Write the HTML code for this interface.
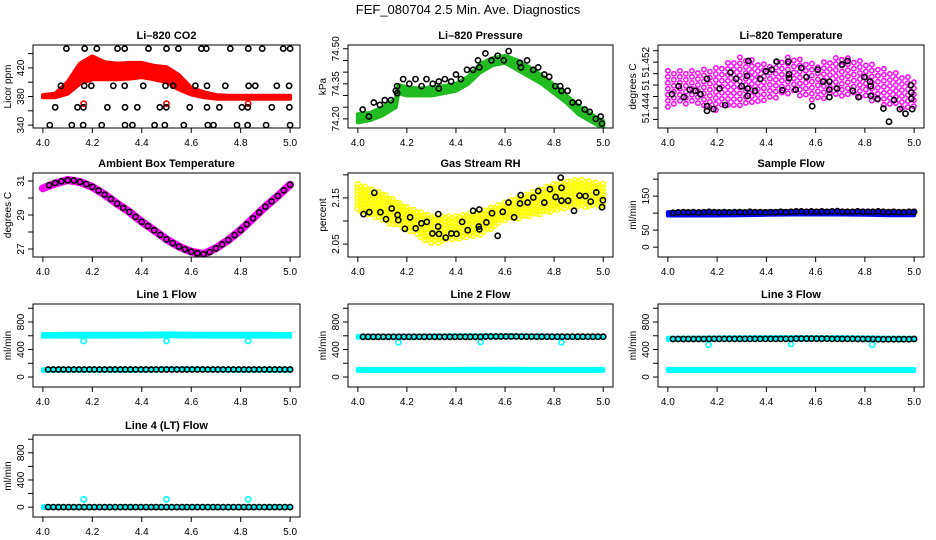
<!DOCTYPE html>
<html><head><meta charset="utf-8"><title>FEF_080704 Diagnostics</title>
<style>
html,body{margin:0;padding:0;background:#fff;}
svg{display:block;font-family:"Liberation Sans",Arial,sans-serif;}
</style></head>
<body>
<svg id="chart" width="936" height="540" viewBox="0 0 936 540" xmlns="http://www.w3.org/2000/svg">
<rect x="0" y="0" width="936" height="540" fill="#fff"/>
<text x="468" y="14" font-size="13" text-anchor="middle" fill="#000">FEF_080704  2.5 Min. Ave. Diagnostics</text>
</svg>
<script>
// ---------- data ----------
const t21 = [4.00,4.05,4.10,4.15,4.20,4.25,4.30,4.35,4.40,4.45,4.50,4.55,4.60,4.65,4.70,4.75,4.80,4.85,4.90,4.95,5.00];
const t11 = [4.0,4.1,4.2,4.3,4.4,4.5,4.6,4.7,4.8,4.9,5.0];
const tReg = [4.021,4.042,4.063,4.083,4.104,4.125,4.146,4.167,4.188,4.208,4.229,4.250,4.271,4.292,4.313,4.333,4.354,4.375,4.396,4.417,4.438,4.458,4.479,4.500,4.521,4.542,4.563,4.583,4.604,4.625,4.646,4.667,4.688,4.708,4.729,4.750,4.771,4.792,4.813,4.833,4.854,4.875,4.896,4.917,4.938,4.958,4.979,5.000];

// Li-820 CO2
const co2Lo = [379,379,384,398,404,404,404,405,407,404,400,390,383,379,377,377,377,377,377,377,377];
const co2Hi = [382,384,400,426,436,428,426,427,427,423,421,410,392,386,382,381,381,381,381,381,381];
const co2OutT = [4.165,4.50,4.83];
const co2OutV = [370,370,370];
const co2BlkT = [4.095,4.169,4.218,4.302,4.331,4.427,4.500,4.548,4.641,4.661,4.758,4.831,4.887,4.972,5.000,
 4.073,4.167,4.196,4.285,4.331,4.406,4.496,4.527,4.617,4.664,4.738,4.832,4.859,4.946,4.996,
 4.050,4.140,4.164,4.261,4.332,4.382,4.473,4.499,4.594,4.664,4.714,4.805,4.829,4.926,4.997,
 4.028,4.117,4.163,4.238,4.332,4.362,4.452,4.493,4.570,4.667,4.690,4.785,4.828,4.903,5.000];
const co2BlkV = [447,447,447,447,447,447,447,447,447,447,447,447,447,447,447,
 395,395,395,395,395,395,395,395,395,395,395,395,395,395,395,
 365,365,365,365,365,365,365,365,365,365,365,365,365,365,365,
 340,340,340,340,340,340,340,340,340,340,340,340,340,340,340];

// Li-820 Pressure
const presT = [4.00,4.05,4.10,4.155,4.165,4.20,4.25,4.30,4.35,4.40,4.45,4.50,4.55,4.60,4.65,4.70,4.75,4.80,4.85,4.90,4.95,5.00];
const presLo = [74.185,74.195,74.215,74.25,74.31,74.30,74.30,74.30,74.31,74.32,74.35,74.40,74.43,74.44,74.41,74.38,74.35,74.31,74.27,74.22,74.19,74.16];
const presHi = [74.22,74.225,74.25,74.285,74.345,74.335,74.33,74.335,74.34,74.35,74.38,74.435,74.46,74.47,74.45,74.42,74.385,74.345,74.30,74.255,74.22,74.19];
const presBlkT = [4.02,4.045,4.065,4.09,4.11,4.135,4.155,4.16,4.16,4.185,4.21,4.235,4.26,4.28,4.305,4.33,4.33,4.355,4.38,4.40,4.42,4.445,4.47,4.49,4.495,4.52,4.545,4.57,4.595,4.615,4.66,4.665,4.69,4.715,4.735,4.76,4.78,4.805,4.825,4.83,4.855,4.875,4.90,4.925,4.945,4.97,4.99,4.995];
const presBlkV = [74.24,74.21,74.27,74.26,74.28,74.28,74.32,74.34,74.31,74.37,74.35,74.37,74.34,74.37,74.35,74.36,74.33,74.37,74.36,74.39,74.37,74.41,74.41,74.45,74.42,74.48,74.45,74.47,74.45,74.49,74.44,74.42,74.45,74.41,74.42,74.39,74.38,74.34,74.34,74.32,74.32,74.27,74.27,74.24,74.23,74.20,74.21,74.18];

// Li-820 Temperature
const tempLo = [51.4440,51.4450,51.4435,51.4445,51.4450,51.4465,51.4450,51.4460,51.4455,51.4440,51.4435];
const tempHi = [51.4505,51.4505,51.4510,51.4530,51.4515,51.4530,51.4515,51.4530,51.4520,51.4505,51.4490];
const tempBlkT = [4.017,4.044,4.065,4.089,4.112,4.132,4.159,4.159,4.159,4.185,4.210,4.233,4.254,4.277,4.300,4.321,4.327,4.324,4.324,4.354,4.375,4.398,4.422,4.442,4.465,4.489,4.492,4.492,4.519,4.542,4.563,4.586,4.609,4.630,4.656,4.656,4.656,4.687,4.707,4.730,4.751,4.774,4.798,4.821,4.824,4.824,4.851,4.875,4.898,4.919,4.942,4.965,4.987,4.989,4.989,4.992];
const tempBlkV = [51.4464,51.4478,51.4459,51.4472,51.4470,51.4464,51.4491,51.4443,51.4435,51.4438,51.4474,51.4445,51.4502,51.4491,51.4478,51.4496,51.4522,51.4474,51.4461,51.4470,51.4491,51.4504,51.4507,51.4521,51.4471,51.4521,51.4499,51.4492,51.4472,51.4510,51.4494,51.4443,51.4507,51.4486,51.4486,51.4472,51.4459,51.4474,51.4516,51.4522,51.4470,51.4459,51.4494,51.4486,51.4478,51.4461,51.4456,51.4439,51.4416,51.4454,51.4438,51.4430,51.4480,51.4467,51.4456,51.4438];

// Ambient Box Temperature
const ambCurve = [30.57,30.85,31.06,30.94,30.65,30.20,29.67,29.18,28.60,28.10,27.57,27.14,26.84,26.70,27.04,27.53,28.12,28.80,29.49,30.12,30.78];
const ambBlkT = [4.025,4.05,4.075,4.1,4.125,4.15,4.175,4.2,4.225,4.25,4.275,4.3,4.325,4.35,4.375,4.4,4.425,4.45,4.475,4.5,4.525,4.55,4.575,4.6,4.625,4.65,4.675,4.7,4.725,4.75,4.775,4.8,4.825,4.85,4.875,4.9,4.925,4.95,4.975,5.0];
const ambBlkV = [30.75,30.88,30.98,31.04,31.03,30.94,30.82,30.65,30.44,30.20,29.94,29.67,29.42,29.18,28.89,28.60,28.35,28.10,27.83,27.57,27.35,27.14,26.98,26.84,26.75,26.70,26.82,27.04,27.27,27.53,27.82,28.12,28.45,28.80,29.15,29.49,29.80,30.12,30.45,30.78];

// Gas Stream RH
const rhLo = [2.12,2.10,2.08,2.05,2.06,2.07,2.10,2.11,2.12,2.13,2.13];
const rhHi = [2.18,2.16,2.13,2.11,2.11,2.12,2.14,2.16,2.18,2.19,2.18];
const rhBlkT = [4.023,4.047,4.067,4.092,4.115,4.138,4.162,4.165,4.192,4.213,4.236,4.259,4.281,4.304,4.328,4.327,4.331,4.358,4.381,4.402,4.425,4.448,4.470,4.495,4.493,4.495,4.524,4.547,4.570,4.591,4.614,4.637,4.661,4.664,4.692,4.715,4.735,4.760,4.783,4.806,4.827,4.830,4.830,4.857,4.881,4.904,4.928,4.949,4.972,4.995,4.999];
const rhBlkV = [2.115,2.119,2.161,2.119,2.104,2.127,2.113,2.102,2.083,2.108,2.084,2.095,2.098,2.073,2.115,2.088,2.072,2.064,2.073,2.072,2.098,2.080,2.122,2.125,2.088,2.082,2.097,2.117,2.068,2.120,2.140,2.108,2.138,2.156,2.140,2.151,2.165,2.140,2.169,2.152,2.194,2.172,2.144,2.144,2.122,2.155,2.154,2.142,2.162,2.130,2.145];

// Sample Flow
const sampLo = [93,93,93,94,95,96,96,96,95,94,94];
const sampHi = [103,103,104,104,105,106,106,106,105,104,104];
const sampBlk = [101,102,103,102,103,102,103,104,103,102,103,102,103,103,102,104,103,103,102,103,103,104,103,104,105,105,104,105,104,105,104,105,106,104,104,104,105,104,104,104,105,104,103,104,103,103,104,104];

// Line flows
const flowOutT = [4.165,4.50,4.83];
const l1TopLo = [585,588,588,588,590,592,590,588,588,588,586];
const l1TopHi = [625,628,628,628,630,634,630,628,628,628,626];
const l1BotLo = [92,92,92,92,92,100,100,95,92,92,92];
const l1BotHi = [112,112,112,112,112,125,125,115,112,112,112];
const l1Out = [524,524,524];
const l1Blk = [110,110,110,110,110,110,110,110,110,110,110,110,110,110,110,110,110,110,110,110,110,110,110,110,110,110,110,110,110,110,110,110,110,110,110,110,110,110,110,110,110,110,110,110,110,110,110,110];
const l2TopLo = [570,572,572,574,576,578,578,576,574,572,570];
const l2TopHi = [598,600,600,602,605,606,606,604,600,598,596];
const l2BotLo = [88,88,88,88,88,88,88,88,88,88,88];
const l2BotHi = [118,118,118,118,118,120,120,118,118,118,118];
const l2Out = [505,510,505];
const l2Blk = [585,585,585,585,585,585,585,585,585,585,585,585,585,585,585,585,585,585,585,585,585,585,585,585,590,590,590,590,590,590,590,588,588,588,588,586,586,586,586,586,586,586,586,586,586,586,586,586];
const l3TopLo = [540,542,545,546,548,550,550,548,545,542,540];
const l3TopHi = [572,574,576,578,580,582,582,580,577,574,572];
const l3BotLo = [88,88,88,88,88,88,88,88,88,88,88];
const l3BotHi = [118,118,118,118,118,118,118,118,118,118,118];
const l3Out = [470,480,470];
const l3Blk = [553,553,553,553,553,553,553,555,555,555,555,555,555,555,555,555,555,555,555,555,555,555,555,555,558,558,558,558,558,558,558,555,555,555,555,555,553,553,553,553,550,550,550,550,550,550,550,553];
const l4Lo = [-12,-12,-12,-12,-12,-12,-12,-12,-12,-12,-12];
const l4Hi = [12,12,12,12,12,12,12,12,12,12,12];
const l4Out = [115,115,115];
const l4Blk = [0,0,0,0,0,0,0,0,0,0,0,0,0,0,0,0,0,0,0,0,0,0,0,0,0,0,0,0,0,0,0,0,0,0,0,0,0,0,0,0,0,0,0,0,0,0,0,0];

// ---------- tick arrays ----------
const xTicks = [4.0,4.2,4.4,4.6,4.8,5.0];
const xTickLabels = ["4.0","4.2","4.4","4.6","4.8","5.0"];
const flowTicks = [0,200,400,600,800,1000];
const flowLabels = ["0","","400","","800",""];

// ---------- layout ----------
const NS = "http://www.w3.org/2000/svg";
const svg = document.getElementById("chart");
const colL = [33,348,658], colR = [300,613,924];
const rowT = [45,173,304,435], rowB = [128,257,387,517];

function mk(tag, attrs, parent) {
  const el = document.createElementNS(NS, tag);
  for (const k in attrs) el.setAttribute(k, attrs[k]);
  (parent || svg).appendChild(el);
  return el;
}
function interp(ts, vs, t) {
  if (t <= ts[0]) return vs[0];
  for (let i = 1; i < ts.length; i++) {
    if (t <= ts[i]) { const f = (t - ts[i-1]) / (ts[i] - ts[i-1]); return vs[i-1] + f * (vs[i] - vs[i-1]); }
  }
  return vs[vs.length-1];
}

let panelCount = 0;
function makePanel(o) {
  const p = { L: colL[o.col], R: colR[o.col], T: rowT[o.row], B: rowB[o.row], y0: o.y0, y1: o.y1 };
  p.sx = t => p.L + (t - 3.96) / 1.08 * (p.R - p.L);
  p.sy = v => p.B - (v - p.y0) / (p.y1 - p.y0) * (p.B - p.T);
  panelCount++;
  const g = mk("g", {});
  
  
  p.g = g;
  const cid = "clip" + panelCount;
  const cp = mk("clipPath", { id: cid }, g);
  mk("rect", { x: p.L, y: p.T, width: p.R - p.L, height: p.B - p.T }, cp);
  p.plot = mk("g", { "clip-path": "url(#" + cid + ")" }, g);
  
  
  const tt = mk("text", { x: (p.L + p.R) / 2, y: p.T - 6, "font-size": 11, "font-weight": "bold", "text-anchor": "middle" }, g);
  tt.textContent = o.title;
  
  
  const bx = mk("rect", { x: p.L, y: p.T, width: p.R - p.L, height: p.B - p.T, fill: "none", stroke: "#000", "stroke-width": 1 }, g);
  
  
  xTicks.forEach((t, i) => {
    const x = p.sx(t);
    const tk = mk("line", { x1: x, x2: x, y1: p.B, y2: p.B + 5, stroke: "#000" }, g);
    
    
    const lb = mk("text", { x: x, y: p.B + 18, "font-size": 10, "text-anchor": "middle" }, g);
    lb.textContent = xTickLabels[i];
    
    
  });
  o.yTicks.forEach((v, i) => {
    const y = p.sy(v);
    const tk = mk("line", { x1: p.L - 5, x2: p.L, y1: y, y2: y, stroke: "#000" }, g);
    
    
    if (o.yLabels[i]) {
      const lb = mk("text", { x: 0, y: 0, "font-size": 10, "text-anchor": "middle", transform: "translate(" + (p.L - 9) + "," + y + ") rotate(-90)" }, g);
      lb.textContent = o.yLabels[i];
      
      
    }
  });
  const yt = mk("text", { x: 0, y: 0, "font-size": 10, "text-anchor": "middle", transform: "translate(" + (p.L - 22) + "," + ((p.T + p.B) / 2) + ") rotate(-90)" }, g);
  yt.textContent = o.ylab;
  
  
  return p;
}
function band(p, ts, lo, hi, color, name) {
  let d = "";
  ts.forEach((t, i) => { d += (i ? "L" : "M") + p.sx(t).toFixed(1) + "," + p.sy(hi[i]).toFixed(1); });
  for (let i = ts.length - 1; i >= 0; i--) d += "L" + p.sx(ts[i]).toFixed(1) + "," + p.sy(lo[i]).toFixed(1);
  d += "Z";
  const el = mk("path", { d: d, fill: color, stroke: color, "stroke-width": 4, "stroke-linejoin": "round" }, p.plot);
  
  
}
function cloud(p, ts, lo, hi, color, step, r, name) {
  const g = mk("g", { fill: "none", stroke: color, "stroke-width": 1.5 }, p.plot);
  
  
  const x0 = p.sx(ts[0]), x1 = p.sx(ts[ts.length - 1]);
  let row = 0;
  for (let x = x0; x <= x1 + 0.1; x += step) {
    const t = 3.96 + (x - p.L) / (p.R - p.L) * 1.08;
    const yh = p.sy(interp(ts, hi, t)), yl = p.sy(interp(ts, lo, t));
    for (let y = yh + ((row % 2) ? step / 2 : 0); y <= yl; y += step) {
      mk("circle", { cx: x.toFixed(1), cy: y.toFixed(1), r: r }, g);
    }
    row++;
  }
}
function points(p, ts, vs, color, name) {
  const g = mk("g", { fill: "none", stroke: color, "stroke-width": 1.6 }, p.plot);
  
  
  ts.forEach((t, i) => {
    const c = mk("circle", { cx: p.sx(t).toFixed(1), cy: p.sy(vs[i]).toFixed(1), r: 2.6 }, g);
    
    
  });
}
function curve(p, ts, vs, color, w, name) {
  let d = "";
  ts.forEach((t, i) => { d += (i ? "L" : "M") + p.sx(t).toFixed(1) + "," + p.sy(vs[i]).toFixed(1); });
  const el = mk("path", { d: d, fill: "none", stroke: color, "stroke-width": w, "stroke-linecap": "round", "stroke-linejoin": "round" }, p.plot);
  
  
}

// ---------- panels ----------
let p;
p = makePanel({ name: "co2-panel", title: "Li\u2013820 CO2", ylab: "Licor ppm", col: 0, row: 0, y0: 336, y1: 452,
  yTicks: [340,360,380,400,420,440], yLabels: ["340","","380","","420",""] });
band(p, t21, co2Lo, co2Hi, "#ff0000", "co2-red-series");
points(p, co2OutT, co2OutV, "#ff0000", "co2-red-outliers");
points(p, co2BlkT, co2BlkV, "#000", "co2-black-series");

p = makePanel({ name: "pressure-panel", title: "Li\u2013820 Pressure", ylab: "kPa", col: 1, row: 0, y0: 74.161, y1: 74.516,
  yTicks: [74.20,74.25,74.30,74.35,74.40,74.45,74.50], yLabels: ["74.20","","","74.35","","","74.50"] });
band(p, presT, presLo, presHi, "#22bb22", "pressure-green-series");
points(p, presBlkT, presBlkV, "#000", "pressure-black-series");

p = makePanel({ name: "temperature-panel", title: "Li\u2013820 Temperature", ylab: "degrees C", col: 2, row: 0, y0: 51.4405, y1: 51.455,
  yTicks: [51.442,51.444,51.446,51.448,51.450,51.452,51.454], yLabels: ["","51.444","","51","","51.452",""] });
cloud(p, t11, tempLo, tempHi, "#ff00ff", 6, 2.2, "temperature-magenta-series");
points(p, tempBlkT, tempBlkV, "#000", "temperature-black-series");

p = makePanel({ name: "ambient-panel", title: "Ambient Box Temperature", ylab: "degrees C", col: 0, row: 1, y0: 26.53, y1: 31.47,
  yTicks: [27,28,29,30,31], yLabels: ["27","","29","","31"] });
curve(p, t21, ambCurve, "#ff00ff", 8, "ambient-magenta-series");
points(p, ambBlkT, ambBlkV, "#000", "ambient-black-series");

p = makePanel({ name: "rh-panel", title: "Gas Stream RH", ylab: "percent", col: 1, row: 1, y0: 2.022, y1: 2.204,
  yTicks: [2.05,2.10,2.15,2.20], yLabels: ["2.05","","2.15",""] });
cloud(p, t11, rhLo, rhHi, "#ffff00", 3.5, 2.4, "rh-yellow-series");
points(p, rhBlkT, rhBlkV, "#000", "rh-black-series");

p = makePanel({ name: "sample-flow-panel", title: "Sample Flow", ylab: "ml/min", col: 2, row: 1, y0: -29, y1: 218,
  yTicks: [0,50,100,150,200], yLabels: ["0","50","","150",""] });
band(p, t11, sampLo, sampHi, "#0000ff", "sample-blue-series");
points(p, tReg, sampBlk, "#000", "sample-black-series");

p = makePanel({ name: "line1-panel", title: "Line 1 Flow", ylab: "ml/min", col: 0, row: 2, y0: -145, y1: 1062, yTicks: flowTicks, yLabels: flowLabels });
band(p, t11, l1TopLo, l1TopHi, "#00ffff", "line1-cyan-high");
band(p, t11, l1BotLo, l1BotHi, "#00ffff", "line1-cyan-low");
points(p, flowOutT, l1Out, "#00ffff", "line1-cyan-outliers");
points(p, tReg, l1Blk, "#000", "line1-black-series");

p = makePanel({ name: "line2-panel", title: "Line 2 Flow", ylab: "ml/min", col: 1, row: 2, y0: -145, y1: 1062, yTicks: flowTicks, yLabels: flowLabels });
band(p, t11, l2TopLo, l2TopHi, "#00ffff", "line2-cyan-high");
band(p, t11, l2BotLo, l2BotHi, "#00ffff", "line2-cyan-low");
points(p, flowOutT, l2Out, "#00ffff", "line2-cyan-outliers");
points(p, tReg, l2Blk, "#000", "line2-black-series");

p = makePanel({ name: "line3-panel", title: "Line 3 Flow", ylab: "ml/min", col: 2, row: 2, y0: -145, y1: 1062, yTicks: flowTicks, yLabels: flowLabels });
band(p, t11, l3TopLo, l3TopHi, "#00ffff", "line3-cyan-high");
band(p, t11, l3BotLo, l3BotHi, "#00ffff", "line3-cyan-low");
points(p, flowOutT, l3Out, "#00ffff", "line3-cyan-outliers");
points(p, tReg, l3Blk, "#000", "line3-black-series");

p = makePanel({ name: "line4-panel", title: "Line 4 (LT) Flow", ylab: "ml/min", col: 0, row: 3, y0: -145, y1: 1062, yTicks: flowTicks, yLabels: flowLabels });
band(p, t11, l4Lo, l4Hi, "#00ffff", "line4-cyan-series");
points(p, flowOutT, l4Out, "#00ffff", "line4-cyan-outliers");
points(p, tReg, l4Blk, "#000", "line4-black-series");
</script>
</body></html>
